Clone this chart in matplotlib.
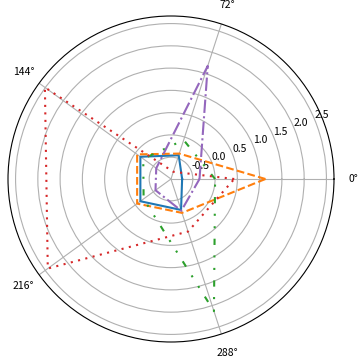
import numpy as np
import matplotlib
matplotlib.use("Agg")
import matplotlib.pyplot as plt

plt.rcParams['font.family'] = ['Noto Sans CJK SC', 'DejaVu Sans']
plt.rcParams['axes.unicode_minus'] = False

theta_deg = [0, 72, 144, 216, 288]
theta_labels = ['0°', '72°', '144°', '216°', '288°']
r_ticks = [-0.5, 0.0, 0.5, 1.0, 1.5, 2.0, 2.5]

s_blue = [-0.74, -0.43, -0.14, -0.14, -0.26]
s_orange = [1.13, -0.39, -0.05, -0.05, -0.19]
s_green = [0.0, -0.07, -0.22, -0.23, 2.13]
s_red = [0.43, -0.82, 2.51, 2.43, 0.25]
s_purple = [-0.35, 1.68, -0.58, -0.56, -0.24]

series = [s_blue, s_orange, s_green, s_red, s_purple]
colors = ['C0', 'C1', 'C2', 'C3', 'C4']
styles = ['-', '--', (0, (3, 5, 1, 5, 1, 5)), (0, (1, 2.6)), '-.']

fig = plt.figure(figsize=(3.62, 3.59), dpi=100)
cx, cy, R = 171, 179, 163
W, H = 362, 359
ax = fig.add_axes([(cx - R) / W, (H - cy - R) / H, 2 * R / W, 2 * R / H],
                  projection='polar')

th = np.deg2rad(theta_deg + [theta_deg[0]])
for s, c, ls in zip(series, colors, styles):
    ax.plot(th, s + [s[0]], color=c, linestyle=ls, linewidth=1.5)

ax.set_ylim(-0.99, 2.67)
ax.set_yticks(r_ticks)
ax.set_yticklabels([f'{v:.1f}' for v in r_ticks])
ax.set_thetagrids(theta_deg, theta_labels)
ax.tick_params(labelsize=7.5)
ax.grid(True, color='#b0b0b0', linewidth=0.8)

fig.savefig('out.png', dpi=100)
